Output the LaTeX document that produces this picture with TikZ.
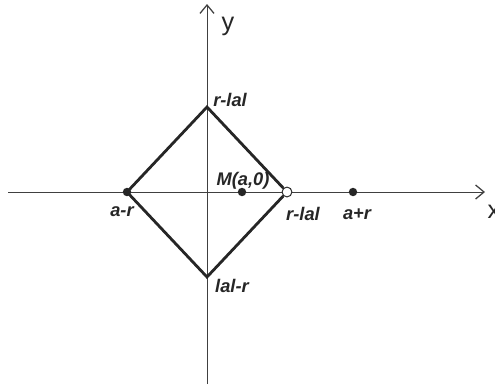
\documentclass[tikz,border=0pt]{standalone}
\usepackage{fontspec}
\setmainfont{Liberation Sans}
\usepackage{tikz}
\usetikzlibrary{arrows.meta,calc,positioning}

\begin{document}
\begin{tikzpicture}[x=0.025cm, y=-0.025cm,
  axis/.style={line width=0.7pt, draw=black!75, -{Straight Barb[length=6pt,width=10pt,line width=0.9pt]}},
  side/.style={line width=2pt, draw=black!85, line join=miter},
  dot/.style={circle, fill=black!85, inner sep=0pt, minimum size=6pt},
  hole/.style={circle, draw=black!85, fill=white, line width=0.7pt, inner sep=0pt, minimum size=7pt},
  lbl/.style={font=\bfseries\itshape\fontsize{13}{15}\selectfont, text=black!85, inner sep=0pt},
  axlbl/.style={font=\fontsize{18}{20}\selectfont, text=black!85, inner sep=0pt}]

\useasboundingbox (0,0) rectangle (495,384);

% axes
\coordinate (xs) at (8,192);
\coordinate (xe) at (485,192);
\coordinate (ys) at (207,384);
\coordinate (ye) at (207,4);
\draw[axis] (xs) -- (xe);
\draw[axis] (ys) -- (ye);
\node[axlbl] (xl) at (494,212) {x};
\node[axlbl] (yl) at (228,26) {y};

% square
\coordinate (top) at (207,107);
\coordinate (bot) at (207,277);
\node[dot] (lft) at (127,192) {};
\node[hole] (rgt) at (287,192) {};
\draw[side] (lft.center) -- (top) -- (rgt) (rgt) -- (bot) -- (lft.center);

% points
\node[dot] (m) at (242,192) {};
\node[dot] (ar) at (353,192) {};

\node[lbl, anchor=west] (ltop) at (213,100) {r-lal};
\node[lbl] (llft) at (122,212) {a-r};
\node[lbl] (lm) at (243,181) {M(a,0)};
\node[lbl] (lrgt) at (303,214) {r-lal};
\node[lbl] (lar) at (357,214) {a+r};
\node[lbl] (lbot) at (232,286) {lal-r};

\end{tikzpicture}
\end{document}
